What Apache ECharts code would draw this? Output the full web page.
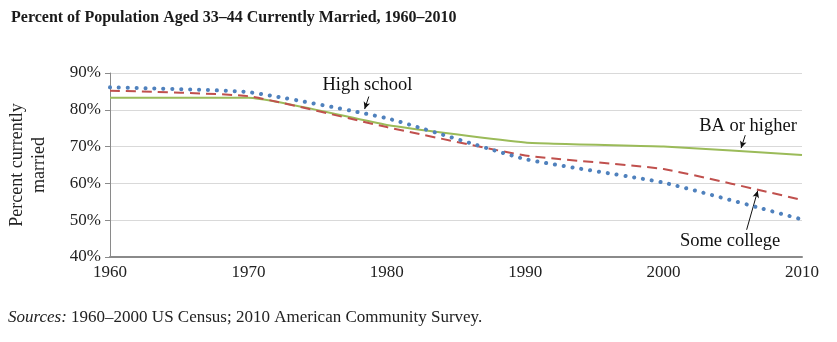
<!DOCTYPE html>
<html>
<head>
<meta charset="utf-8">
<script src="https://cdn.jsdelivr.net/npm/echarts@6/dist/echarts.min.js"></script>
<style>
html,body{margin:0;padding:0;background:#fff;}
#chart{width:837px;height:342px;}
</style>
</head>
<body>
<div id="chart"></div>
<script>
var years = [1960, 1970, 1980, 1990, 2000, 2010];
var baOrHigher = [83.3, 83.3, 75.9, 71.1, 70.0, 67.7];
var someCollege = [85.2, 83.7, 75.3, 67.6, 63.9, 55.5];
var highSchool = [86.1, 84.8, 77.7, 66.6, 60.2, 50.2];
var yTicks = [40, 50, 60, 70, 80, 90];

// annotation labels and arrows, in data coordinates [year, percent]
var labelHighSchool = { text: 'High school', at: [1978.6, 86.8] };
var labelBA = { text: 'BA or higher', at: [2006.1, 75.6] };
var labelSome = { text: 'Some college', at: [2004.8, 44.3] };
var arrowHighSchool = [[1978.7, 83.6], [1978.4, 80.2]];
var arrowBA = [[2005.9, 73.1], [2005.6, 69.6]];
var arrowSome = [[2006.0, 47.4], [2006.8, 58.0]];

function pairs(xs, ys) { return xs.map(function (x, i) { return [x, ys[i]]; }); }

var serif = '"Liberation Serif", "DejaVu Serif", serif';
var chart = echarts.init(document.getElementById('chart'));
chart.setOption({
  animation: false,
  backgroundColor: '#fff',
  title: {
    text: 'Percent of Population Aged 33\u201344 Currently Married, 1960\u20132010',
    left: 6, top: 5,
    textStyle: { fontFamily: serif, fontWeight: 'bold', fontSize: 16, color: '#1a1a1a' }
  },
  graphic: [{
    type: 'text', left: 8, top: 309,
    style: {
      text: '{i|Sources:} 1960\u20132000 US Census; 2010 American Community Survey.',
      rich: { i: { fontStyle: 'italic', fontFamily: serif, fontSize: 17, fill: '#222' } },
      fontFamily: serif, fontSize: 17, fill: '#222'
    }
  }],
  grid: { left: 110, right: 35, top: 73, bottom: 85, outerBoundsMode: 'none', containLabel: false },
  xAxis: {
    type: 'value', min: 1960, max: 2010, interval: 10,
    axisLine: { show: true, lineStyle: { color: '#8a8a8a', width: 2 } },
    axisTick: { show: false },
    splitLine: { show: false },
    axisLabel: { fontFamily: serif, fontSize: 17, color: '#222', margin: 7, formatter: function (v) { return String(v); } }
  },
  yAxis: {
    type: 'value', min: 40, max: 90, interval: 10,
    name: 'Percent currently\nmarried', nameLocation: 'middle', nameRotate: 90, nameGap: 60,
    nameTextStyle: { fontFamily: serif, fontSize: 18, color: '#222', lineHeight: 22 },
    axisLine: { show: true, lineStyle: { color: '#8a8a8a', width: 1 } },
    axisTick: { show: true, inside: false, length: 5, lineStyle: { color: '#8a8a8a' } },
    splitLine: { show: true, lineStyle: { color: '#d9d9d9', width: 1 } },
    axisLabel: { fontFamily: serif, fontSize: 17, color: '#222', margin: 9,
      formatter: function (v) { return yTicks.indexOf(v) >= 0 ? v + '%' : ''; } }
  },
  series: [
    {
      name: 'BA or higher', type: 'line', data: pairs(years, baOrHigher), smooth: 0.15,
      symbol: 'none', lineStyle: { color: '#9bbb59', width: 2 }, z: 3
    },
    {
      name: 'Some college', type: 'line', data: pairs(years, someCollege), smooth: 0.15,
      symbol: 'none', lineStyle: { color: '#c0504d', width: 2, type: [10, 6] }, z: 4
    },
    {
      name: 'High school', type: 'line', data: pairs(years, highSchool), smooth: 0.15,
      symbol: 'none', lineStyle: { color: '#4f81bd', width: 4, type: [0.1, 8.8], cap: 'round' }, z: 5
    },
    {
      name: 'annotations', type: 'line', data: [], symbol: 'none', silent: true,
      markPoint: {
        symbol: 'circle', symbolSize: 1, silent: true,
        itemStyle: { color: 'rgba(0,0,0,0)' },
        label: { show: true, position: 'inside', fontFamily: serif, fontSize: 18.5, color: '#111',
          formatter: function (p) { return p.name; } },
        data: [labelHighSchool, labelBA, labelSome].map(function (l) { return { name: l.text, coord: l.at }; })
      },
      markLine: {
        silent: true, symbol: ['none', 'arrow'], symbolSize: [5, 7],
        label: { show: false },
        lineStyle: { color: '#111', width: 1, type: 'solid' },
        data: [arrowHighSchool, arrowBA, arrowSome].map(function (a) {
          return [{ coord: a[0] }, { coord: a[1] }];
        })
      }
    }
  ]
});
</script>
</body>
</html>
